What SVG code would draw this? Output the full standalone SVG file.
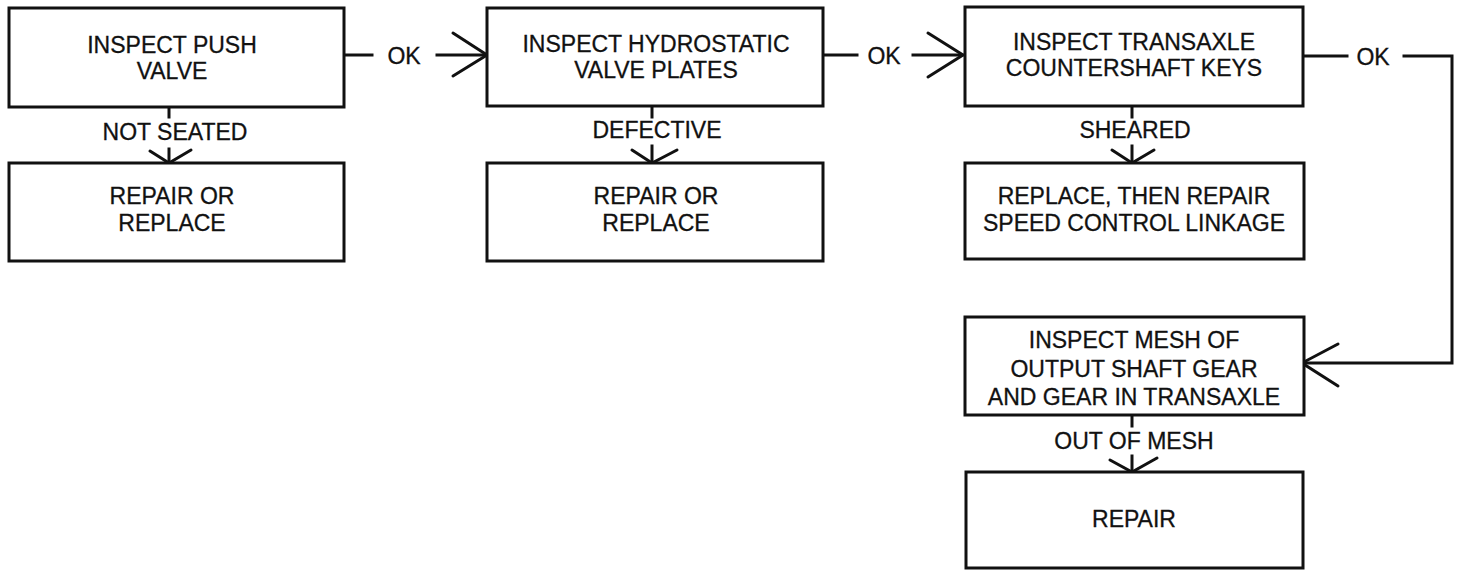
<svg xmlns="http://www.w3.org/2000/svg" width="1462" height="570" viewBox="0 0 1462 570">
<style>
.box{fill:#fff;stroke:#111;stroke-width:3}
.ln{fill:none;stroke:#111;stroke-width:3;stroke-linecap:square;stroke-linejoin:miter}
.hd{fill:none;stroke:#111;stroke-width:3;stroke-linecap:round}
text{font-family:"Liberation Sans",Arial,sans-serif;font-size:23px;fill:#111;text-anchor:middle;stroke:#111;stroke-width:0.3}
</style>
<rect width="1462" height="570" fill="#fff"/>
<g id="connectors">
  <line class="ln" x1="344" y1="55" x2="372" y2="55"/>
  <line class="ln" x1="437" y1="55" x2="486" y2="55"/>
  <polyline class="hd" points="453,33 487,55 453,76"/>
  <text x="404" y="64">OK</text>

  <line class="ln" x1="823" y1="55" x2="857" y2="55"/>
  <line class="ln" x1="913" y1="55" x2="962" y2="55"/>
  <polyline class="hd" points="928,33 963,55 928,77"/>
  <text x="884" y="64">OK</text>

  <polyline class="ln" points="1303,56 1347,56"/>
  <polyline class="ln" points="1404,56 1452,56 1452,363 1303,363"/>
  <polyline class="hd" points="1338,344 1302,363 1338,386"/>
  <text x="1373" y="65">OK</text>

  <line class="ln" x1="169" y1="107" x2="169" y2="117"/>
  <line class="ln" x1="169" y1="149" x2="169" y2="162"/>
  <polyline class="hd" points="150,151 169,163 191,150"/>
  <text x="175" y="140">NOT SEATED</text>

  <line class="ln" x1="652" y1="106" x2="652" y2="117"/>
  <line class="ln" x1="652" y1="146" x2="652" y2="162"/>
  <polyline class="hd" points="632,150 652,163 677,150"/>
  <text x="657" y="138">DEFECTIVE</text>

  <line class="ln" x1="1132" y1="106" x2="1132" y2="117"/>
  <line class="ln" x1="1132" y1="146" x2="1132" y2="162"/>
  <polyline class="hd" points="1112,150 1132,163 1154,150"/>
  <text x="1135" y="138">SHEARED</text>

  <line class="ln" x1="1132" y1="415" x2="1132" y2="426"/>
  <line class="ln" x1="1132" y1="456" x2="1132" y2="471"/>
  <polyline class="hd" points="1110,460 1132,472 1157,458"/>
  <text x="1134" y="449">OUT OF MESH</text>
</g>
<g id="n1">
  <rect class="box" x="9" y="8" width="335" height="99"/>
  <text x="172" y="53">INSPECT PUSH</text>
  <text x="172" y="79">VALVE</text>
</g>
<g id="n2">
  <rect class="box" x="9" y="163" width="335" height="98"/>
  <text x="172" y="204">REPAIR OR</text>
  <text x="172" y="231">REPLACE</text>
</g>
<g id="n3">
  <rect class="box" x="487" y="8" width="336" height="98"/>
  <text x="656" y="52">INSPECT HYDROSTATIC</text>
  <text x="656" y="78">VALVE PLATES</text>
</g>
<g id="n4">
  <rect class="box" x="487" y="163" width="336" height="98"/>
  <text x="656" y="204">REPAIR OR</text>
  <text x="656" y="231">REPLACE</text>
</g>
<g id="n5">
  <rect class="box" x="965" y="7" width="338" height="99"/>
  <text x="1134" y="50">INSPECT TRANSAXLE</text>
  <text x="1134" y="76">COUNTERSHAFT KEYS</text>
</g>
<g id="n6">
  <rect class="box" x="965" y="163" width="339" height="96"/>
  <text x="1134" y="204">REPLACE, THEN REPAIR</text>
  <text x="1134" y="231">SPEED CONTROL LINKAGE</text>
</g>
<g id="n7">
  <rect class="box" x="965" y="317" width="339" height="98"/>
  <text x="1134" y="348">INSPECT MESH OF</text>
  <text x="1134" y="377">OUTPUT SHAFT GEAR</text>
  <text x="1134" y="405">AND GEAR IN TRANSAXLE</text>
</g>
<g id="n8">
  <rect class="box" x="966" y="472" width="337" height="96"/>
  <text x="1134" y="527">REPAIR</text>
</g>
</svg>
